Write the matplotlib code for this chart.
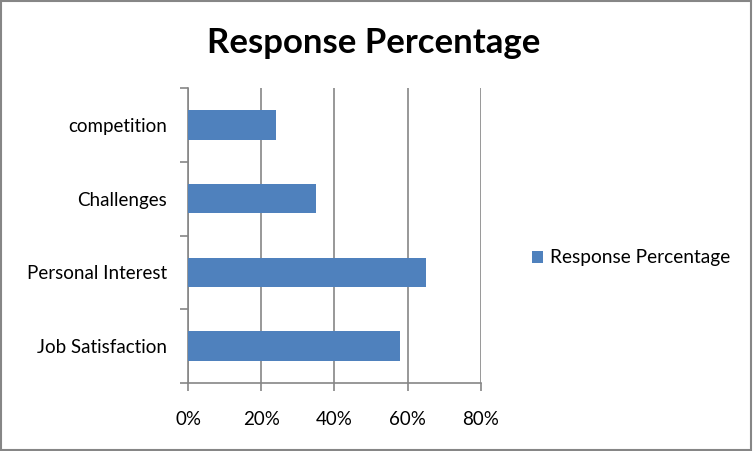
import matplotlib.pyplot as plt
from matplotlib.patches import Rectangle
from matplotlib.ticker import FuncFormatter, FixedLocator

categories = ["Job Satisfaction", "Personal Interest", "Challenges", "competition"]
values = [58, 65, 35, 24]
series_name = "Response Percentage"
x_ticks = [0, 20, 40, 60, 80]

plt.rcParams['font.family'] = ['Lato', 'DejaVu Sans']

fig = plt.figure(figsize=(7.53, 4.51), dpi=100)
ax = fig.add_axes([0.2497, 0.1508, 0.389, 0.654])

axis_grey = "#868686"
pos = list(range(len(categories)))
ax.barh(pos, values, height=0.4, color="#4F81BD", label=series_name, zorder=3)

ax.set_xlim(0, 80)
ax.set_ylim(-0.5, len(categories) - 0.5)
ax.set_xticks(x_ticks)
ax.xaxis.set_major_formatter(FuncFormatter(lambda v, p: f"{v:.0f}%"))
ax.set_yticks(pos)
ax.set_yticklabels(categories)
ax.yaxis.set_minor_locator(FixedLocator([p - 0.5 for p in pos] + [len(categories) - 0.5]))

ax.grid(axis="x", color=axis_grey, linewidth=1.2, zorder=0)
for s in ["top", "right"]:
    ax.spines[s].set_visible(False)
for s in ["left", "bottom"]:
    ax.spines[s].set_color(axis_grey)
    ax.spines[s].set_linewidth(1.2)

ax.tick_params(axis="y", which="major", length=0, pad=15, labelsize=13.5)
ax.tick_params(axis="y", which="minor", length=6, color=axis_grey, width=1.2)
ax.tick_params(axis="x", length=6, color=axis_grey, width=1.2, pad=14, labelsize=13.5)

fig.text(0.496, 0.905, series_name, ha="center", va="center", fontsize=25, fontweight="bold")

fig.legend(loc="center left", bbox_to_anchor=(0.706, 0.428), frameon=False,
           fontsize=13.8, handlelength=0.6, handleheight=0.6, handletextpad=0.35,
           borderpad=0, borderaxespad=0)

fig.patches.append(Rectangle((0.001, 0.002), 0.997, 0.995, transform=fig.transFigure,
                             fill=False, edgecolor="#868686", linewidth=1.5))

fig.savefig("out.png", dpi=100)
